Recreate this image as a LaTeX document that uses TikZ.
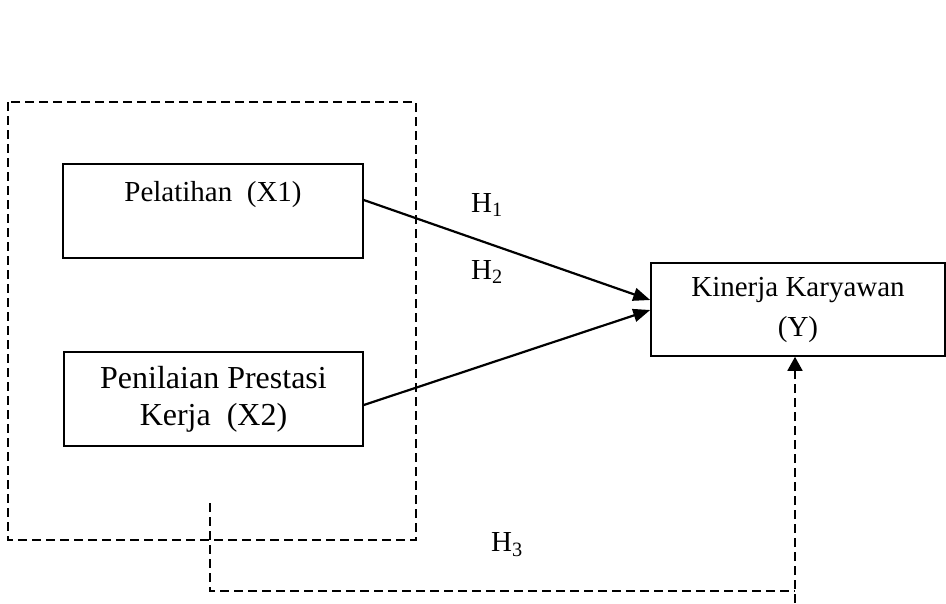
\documentclass[tikz,border=0pt]{standalone}
\usepackage{fontspec}
\setmainfont{Liberation Serif}
\usetikzlibrary{positioning, calc, arrows.meta}

\begin{document}
\begin{tikzpicture}[x=1pt, y=-1pt,
  font=\fontsize{29}{40}\selectfont,
  var/.style={draw, line width=1.6pt, align=center, inner sep=0pt},
  dashline/.style={line width=1.8pt, dash pattern=on 9pt off 5pt},
  link/.style={line width=2.2pt, -{Triangle[length=17pt,width=13pt]}}]
  \useasboundingbox (0,0) rectangle (946,603);

  % group of the two independent variables
  \draw[dashline] (8,102) rectangle (416,540);

  \node[var, minimum width=300pt, minimum height=94pt] (x1) at (213,211) {Pelatihan\ \ (X1)\\ \mbox{}};
  \node[var, minimum width=299pt, minimum height=94pt, font=\fontsize{32}{37}\selectfont] (x2) at (213.5,399) {Penilaian Prestasi\\ Kerja\ \ (X2)};
  \node[var, minimum width=294pt, minimum height=93pt, text depth=5pt] (y) at (798,309.5) {Kinerja Karyawan\\ (Y)};

  \draw[link] ([yshift=11pt]x1.east) -- ([yshift=9.5pt]y.west);
  \draw[link] ([yshift=-6pt]x2.east) -- ([yshift=-0.5pt]y.west);

  \node (h1) at (487,205) {H\textsubscript{1}};
  \node (h2) at (487,272) {H\textsubscript{2}};
  \node (h3) at (507,545) {H\textsubscript{3}};

  % simultaneous path
  \coordinate (h3a) at (210,503);
  \coordinate (h3b) at (795,591);
  \coordinate (h3c) at (795,603);
  \draw[dashline] (h3a) |- (h3b);
  \draw[dashline, -{Triangle[length=14pt,width=15pt]}] (h3c) -- (h3c |- y.south);
\end{tikzpicture}
\end{document}
